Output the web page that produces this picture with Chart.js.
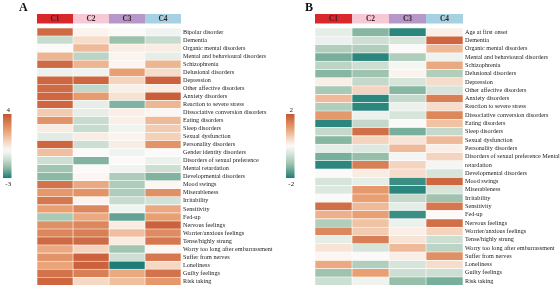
<!DOCTYPE html>
<html>
<head>
<meta charset="utf-8">
<script src="https://cdn.jsdelivr.net/npm/chart.js@4/dist/chart.umd.min.js"></script>
<style>
    body { margin: 0; background: #fff; }
    .panel { position: absolute; top: 0; width: 280px; height: 291px; }
</style>
</head>
<body>
<div class="panel" style="left:0"><canvas id="heatA"></canvas></div>
<div class="panel" style="left:280px"><canvas id="heatB"></canvas></div>
<script>
// Data
const clusters = ['C1', 'C2', 'C3', 'C4'];
const clusterColors = ['#d8282c', '#f7c9d7', '#b597c9', '#a6d1e2'];

const rowsA = ['Bipolar disorder', 'Dementia', 'Organic mental disorders', 'Mental and behavioural disorders',
    'Schizophrenia', 'Delusional disorders', 'Depression', 'Other affective disorders', 'Anxiety disorders',
    'Reaction to severe stress', 'Dissociative conversion disorders', 'Eating disorders', 'Sleep disorders',
    'Sexual dysfunction', 'Personality disorders', 'Gender identity disorders', 'Disorders of sexual preference',
    'Mental retardation', 'Developmental disorders', 'Mood swings', 'Miserableness', 'Irritability',
    'Sensitivity', 'Fed-up', 'Nervous feelings', 'Worrier/anxious feelings', 'Tense/highly strung',
    'Worry too long after embarrassment', 'Suffer from nerves', 'Loneliness', 'Guilty feelings', 'Risk taking'];
const aC1 = [3.5, -1, 0, 1.7, 3.5, -0.3, 3.6, 3.5, 3.6, 3.6, 1.2, 2.5, 0.4, -0.5, 3.6, 1.5, -0.9, -1.6, -1.9, 3.3, 2.4, 3.2, 2.2, -1.5, 2.6, 2.8, 3.5, 2.0, 2.5, 2.1, 3.3, 3.6];
const aC2 = [0.2, 0.8, 1.6, -1.2, 1.7, -0.2, 3.6, -1.1, 2.3, -0.4, -0.4, -1.0, -1.0, 0.4, -0.9, 0, -2.0, 0, 0.1, 2.0, 2.5, 0.2, 2.8, 2.0, 2.8, 3.0, 3.5, 1.0, 3.7, 3.7, 3.0, 0.9];
const aC3 = [0, -1.7, 0.4, 0.2, 0.1, 2.2, 1.0, 0.3, 0.7, -2.0, 0.3, 0.3, -0.2, 0.2, 0.4, -0.2, 0, -0.2, -1.4, -1.4, -1.4, -1.0, -0.2, -2.3, 0.4, 1.5, 0.4, -1.6, -0.9, -3.0, 2.0, 1.5];
const aC4 = [-0.2, -1.0, 0.4, -0.4, 1.7, 0.8, 3.7, 0.4, 3.8, 1.7, 0.1, 1.6, 1.2, 1.1, 2.5, 0, -0.3, -0.9, -2.0, 0.1, 2.6, -0.8, 2.0, 2.2, 3.7, 2.7, 3.2, 0.1, 3.2, 0.9, 3.3, 2.4];
const rangeA = [-3, 4];

const rowsB = ['Age at first onset', 'Dementia', 'Organic mental disorders', 'Mental and behavioural disorders',
    'Schizophrenia', 'Delusional disorders', 'Depression', 'Other affective disorders', 'Anxiety disorders',
    'Reaction to severe stress', 'Dissociative conversion disorders', 'Eating disorders', 'Sleep disorders',
    'Sexual dysfunction', 'Personality disorders', 'Disorders of sexual preference Mental', 'retardation',
    'Developmental disorders', 'Mood swings', 'Miserableness', 'Irritability', 'Sensitivity', 'Fed-up',
    'Nervous feelings', 'Worrier/anxious feelings', 'Tense/highly strung', 'Worry too long after embarrassment',
    'Suffer from nerves', 'Loneliness', 'Guilty feelings', 'Risk taking'];
const bC1 = [-0.3, -0.2, -0.9, -1.4, -0.8, -1.3, 0.15, -1.0, 0.8, -0.9, 1.2, -1.9, -0.7, -1.3, -0.3, -1.4, -1.9, 0, -0.5, -0.4, 0, 1.7, 0.9, -0.9, 1.4, -0.3, 0.3, 0.05, 1.0, -1.1, -0.6];
const bC2 = [-1.3, -0.6, -0.9, -1.9, -0.6, -1.1, -0.7, 0.5, -1.9, -1.9, -0.2, -0.7, 1.7, 0.5, -0.4, -1.2, 1.5, 0.2, -0.3, 1.2, 1.1, 0.8, 1.1, 0.7, 0.6, 1.5, -0.5, 0, -0.9, 1.1, -0.15];
const bC3 = [-1.9, -0.5, 0, -0.9, -0.1, 0.1, -0.5, -1.3, -0.7, -0.2, -0.5, 0, -1.4, 0.3, 0.8, -0.1, 0.5, 0.4, -1.8, -1.9, -0.7, -0.3, -1.8, -0.2, 0.15, 0.3, 0.8, 0.15, -0.5, -0.6, -1.2];
const bC4 = [0.15, 1.8, 0.8, -0.15, 1.0, -0.9, 0.4, -0.5, 1.5, 0.4, 1.4, 0.7, -0.7, 0.8, 0.15, 0.5, -0.1, -0.5, 1.8, -0.5, -1.1, 1.6, 0, 1.7, 0.5, -0.6, -0.8, 1.3, 0.4, -0.6, -1.4];
const rangeB = [-2, 2];

const SERIF = "'Liberation Serif', 'Times New Roman', serif";

// Diverging colour map: teal - white - orange
const posStops = [[0, [252, 250, 248]], [0.2, [246, 221, 203]], [0.55, [232, 160, 115]], [1, [198, 86, 50]]];
const negStops = [[0, [250, 250, 249]], [0.25, [214, 228, 218]], [0.6, [150, 190, 168]], [1, [28, 126, 119]]];

function pick(stops, t) {
    t = Math.max(0, Math.min(1, t));
    for (let i = 1; i < stops.length; i++) {
        if (t <= stops[i][0]) {
            const [t0, c0] = stops[i - 1], [t1, c1] = stops[i];
            const f = (t - t0) / (t1 - t0);
            return c0.map((c, k) => Math.round(c + (c1[k] - c) * f));
        }
    }
    return stops[stops.length - 1][1];
}

function colorFor(v, range) {
    const c = v >= 0 ? pick(posStops, v / range[1]) : pick(negStops, v / range[0]);
    return `rgb(${c[0]},${c[1]},${c[2]})`;
}

// Header boxes, panel letter and colour bar
const decor = {
    id: 'decor',
    afterDraw(chart, args, o) {
        const ctx = chart.ctx;
        const x = chart.scales.x;
        const top = chart.chartArea.top;
        ctx.save();
        clusters.forEach((c, i) => {
            const x0 = x.getPixelForValue(i), x1 = x.getPixelForValue(i + 1);
            ctx.fillStyle = clusterColors[i];
            ctx.fillRect(x0, top - 14, x1 - x0, 9.5);
            ctx.fillStyle = '#3a1f1f';
            ctx.font = `bold 7.5px ${SERIF}`;
            ctx.textAlign = 'center';
            ctx.textBaseline = 'middle';
            ctx.fillText(c, (x0 + x1) / 2, top - 9);
        });

        // letter
        ctx.fillStyle = '#111';
        ctx.font = `bold 12px ${SERIF}`;
        ctx.textAlign = 'left';
        ctx.textBaseline = 'alphabetic';
        ctx.fillText(o.letter, o.letterX, 11);

        // colour bar
        const bx = o.barX, by = 114, bw = 8.5, bh = 64;
        const [lo, hi] = o.range;
        const g = ctx.createLinearGradient(0, by, 0, by + bh);
        for (let s = 0; s <= 20; s++) {
            const v = hi - (hi - lo) * s / 20;
            g.addColorStop(s / 20, colorFor(v, o.range));
        }
        ctx.fillStyle = g;
        ctx.fillRect(bx, by, bw, bh);
        ctx.fillStyle = '#222';
        ctx.font = `7px ${SERIF}`;
        ctx.textAlign = 'center';
        ctx.textBaseline = 'middle';
        ctx.fillText(String(hi), bx + bw / 2 + 1, by - 4);
        ctx.fillText(String(lo), bx + bw / 2 + 1, by + bh + 6);
        ctx.restore();
    }
};

function makePanel(id, rows, cols, range, opts) {
    new Chart(document.getElementById(id), {
        type: 'bar',
        data: {
            labels: rows,
            datasets: cols.map((vals, i) => ({
                label: clusters[i],
                data: vals.map(() => 1),
                backgroundColor: vals.map(v => colorFor(v, range)),
                borderColor: 'rgba(255,255,255,0.9)',
                borderWidth: 0.6,
                borderSkipped: false,
                categoryPercentage: 1,
                barPercentage: 1
            }))
        },
        options: {
            indexAxis: 'y',
            responsive: false,
            animation: false,
            layout: { padding: { left: opts.left, top: 28, bottom: 3, right: 0 } },
            scales: {
                x: { stacked: true, min: 0, max: 4, display: false },
                y: {
                    stacked: true,
                    position: 'right',
                    grid: { display: false, drawTicks: false, tickLength: 0 },
                    border: { display: false },
                    ticks: { autoSkip: false, padding: 2, color: '#222', font: { family: SERIF, size: 6.2 } },
                    afterFit: s => { s.width = opts.axisW; }
                }
            },
            plugins: {
                legend: { display: false },
                tooltip: { enabled: false },
                decor: { letter: opts.letter, letterX: opts.letterX, barX: opts.barX, range }
            }
        },
        plugins: [decor]
    });
}

document.getElementById('heatA').width = 280;
document.getElementById('heatA').height = 291;
document.getElementById('heatB').width = 280;
document.getElementById('heatB').height = 291;

makePanel('heatA', rowsA, [aC1, aC2, aC3, aC4], rangeA, { left: 37, axisW: 99, letter: 'A', letterX: 19, barX: 3 });
makePanel('heatB', rowsB, [bC1, bC2, bC3, bC4], rangeB, { left: 35, axisW: 97, letter: 'B', letterX: 25, barX: 6 });
</script>
</body>
</html>
